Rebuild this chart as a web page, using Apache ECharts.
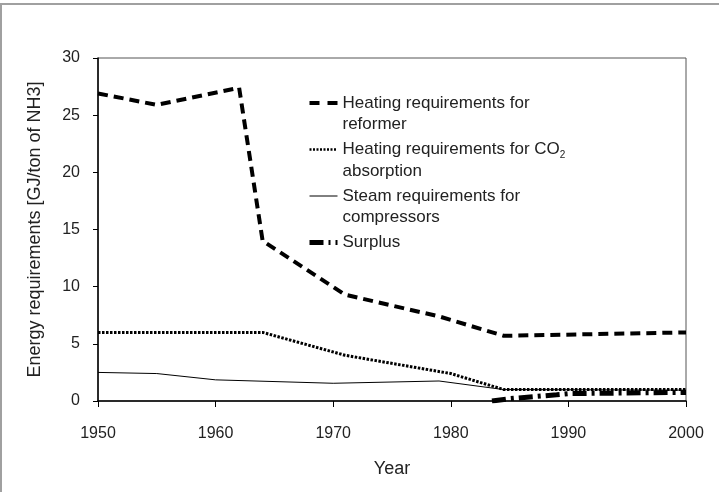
<!DOCTYPE html>
<html>
<head>
<meta charset="utf-8">
<style>html,body{margin:0;padding:0;background:#fff;}#c{width:719px;height:492px;}</style>
<script src="https://cdn.jsdelivr.net/npm/echarts@6/dist/echarts.min.js"></script>
</head>
<body>
<div id="c"></div>
<script>
const xTicks = [1950, 1960, 1970, 1980, 1990, 2000];
const yTicks = [0, 5, 10, 15, 20, 25, 30];

const seriesNames = [
  'Heating requirements for reformer',
  'Heating requirements for CO2 absorption',
  'Steam requirements for compressors',
  'Surplus'
];
const legendLabels = [
  'Heating requirements for\nreformer',
  'Heating requirements for CO{sub|2}\nabsorption',
  'Steam requirements for\ncompressors',
  'Surplus'
];

const reformerYears = [1950, 1955, 1962, 1964, 1971, 1979, 1984.5, 2000];
const reformerValues = [26.9, 25.9, 27.4, 14.0, 9.3, 7.4, 5.7, 6.0];

const co2Years = [1950, 1964, 1971, 1980, 1984.5, 2000];
const co2Values = [6.0, 6.0, 4.0, 2.4, 1.0, 1.0];

const steamYears = [1950, 1955, 1960, 1970, 1979, 1984.5, 2000];
const steamValues = [2.5, 2.4, 1.85, 1.55, 1.75, 1.0, 0.95];

const surplusYears = [1983.5, 1985, 1989, 1990, 2000];
const surplusValues = [0, 0.2, 0.55, 0.65, 0.75];

function pairs(xs, ys) { return xs.map((x, i) => [x, ys[i]]); }

const FONT = '"Liberation Sans", Arial, Helvetica, sans-serif';
const TXT = '#222';
const LH = 21.5;

const chart = echarts.init(document.getElementById('c'), null, {renderer: 'canvas'});
const lineStyles = [
  {color: '#000', width: 4, type: [10, 6], cap: 'butt'},
  {color: '#000', width: 3, type: [2.5, 1.5], cap: 'butt'},
  {color: '#000', width: 1, type: 'solid'},
  {color: '#000', width: 5, type: [14, 5, 3, 5], cap: 'butt'}
];
const legendLineStyles = [
  {color: '#000', width: 4, type: [10, 8], cap: 'butt'},
  {color: '#000', width: 2.5, type: [2, 1.5], cap: 'butt'},
  {color: '#000', width: 1, type: 'solid'},
  {color: '#000', width: 5, type: [14, 5, 2, 5], cap: 'butt'}
];
const dataSets = [
  pairs(reformerYears, reformerValues),
  pairs(co2Years, co2Values),
  pairs(steamYears, steamValues),
  pairs(surplusYears, surplusValues)
];

chart.setOption({
  animation: false,
  backgroundColor: '#fff',
  textStyle: {fontFamily: FONT},
  graphic: [{
    type: 'rect', silent: true, z: 100,
    shape: {x: 1, y: 4, width: 1000, height: 1000},
    style: {fill: 'none', stroke: '#a0a0a0', lineWidth: 2}
  }],
  grid: {left: 98, top: 58, right: 33, bottom: 91, show: true, borderColor: '#555', borderWidth: 1, backgroundColor: 'transparent'},
  legend: {
    orient: 'vertical', left: 307, top: 70.75, padding: 0,
    itemWidth: 28, itemHeight: 14, itemGap: -18,
    itemStyle: {opacity: 0},
    formatter: function (name) { return legendLabels[seriesNames.indexOf(name)]; },
    data: seriesNames.map((n, i) => ({
      name: n,
      lineStyle: legendLineStyles[i],
      textStyle: {
        fontSize: 17, lineHeight: LH, color: TXT, fontFamily: FONT,
        padding: i < 3 ? [LH, 0, 0, 0] : [LH, 0, LH, 0],
        rich: {sub: {fontSize: 10, lineHeight: 13, verticalAlign: 'bottom', color: TXT, fontFamily: FONT}}
      }
    }))
  },
  xAxis: {
    type: 'value', min: xTicks[0], max: xTicks[xTicks.length - 1], interval: 10,
    name: 'Year', nameLocation: 'middle', nameGap: 59,
    nameTextStyle: {fontSize: 18, color: TXT, fontFamily: FONT},
    axisLine: {lineStyle: {color: '#000', width: 1.5}},
    axisTick: {show: true, inside: false, length: 6, lineStyle: {color: '#000', width: 1}},
    axisLabel: {fontSize: 16, color: TXT, margin: 25, fontFamily: FONT, formatter: v => String(v)},
    splitLine: {show: false}
  },
  yAxis: {
    type: 'value', min: yTicks[0], max: yTicks[yTicks.length - 1], interval: 5,
    name: 'Energy requirements [GJ/ton of NH3]', nameLocation: 'middle', nameGap: 54,
    nameTextStyle: {fontSize: 18, color: TXT, fontFamily: FONT},
    axisLine: {show: true, lineStyle: {color: '#000', width: 1.5}},
    axisTick: {show: true, inside: false, length: 5, lineStyle: {color: '#000', width: 1}},
    axisLabel: {fontSize: 16, color: TXT, margin: 18, fontFamily: FONT, formatter: v => String(v)},
    splitLine: {show: false}
  },
  series: dataSets.map((d, i) => ({
    name: seriesNames[i], type: 'line', data: d, symbol: 'none', showSymbol: false,
    lineStyle: lineStyles[i], itemStyle: {color: '#000'}, z: 2 + i,
    clip: true
  }))
});
</script>
</body>
</html>
